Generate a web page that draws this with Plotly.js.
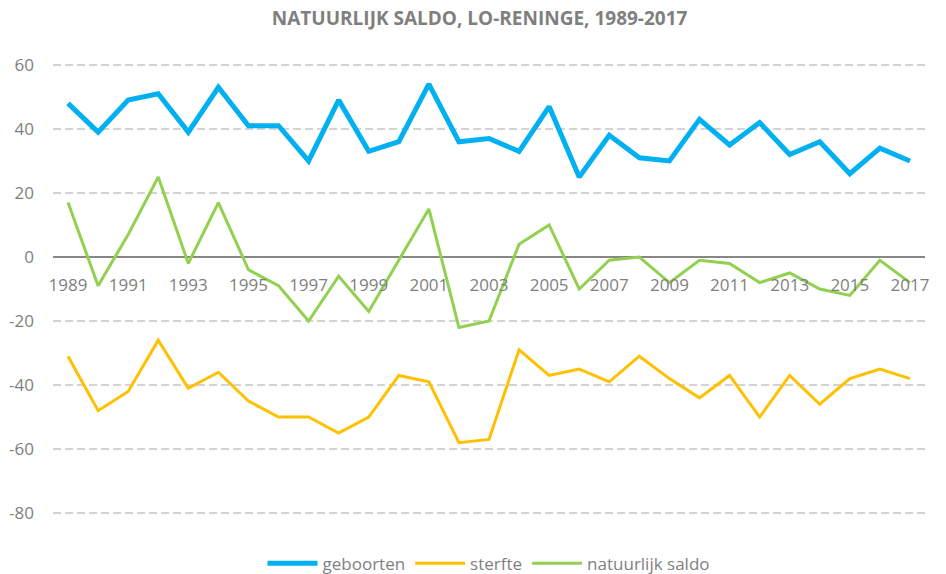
<!DOCTYPE html>
<html>
<head>
<meta charset="utf-8">
<script src="https://cdn.plot.ly/plotly-3.0.1.min.js"></script>
<style>html,body{margin:0;padding:0;background:#fff;}#chart{width:946px;height:574px;}</style>
</head>
<body>
<div id="chart"></div>
<script>
const years = [1989,1990,1991,1992,1993,1994,1995,1996,1997,1998,1999,2000,2001,2002,2003,2004,2005,2006,2007,2008,2009,2010,2011,2012,2013,2014,2015,2016,2017];
const geboorten = [48,39,49,51,39,53,41,41,30,49,33,36,54,36,37,33,47,25,38,31,30,43,35,42,32,36,26,34,30];
const sterfte = [-31,-48,-42,-26,-41,-36,-45,-50,-50,-55,-50,-37,-39,-58,-57,-29,-37,-35,-39,-31,-38,-44,-37,-50,-37,-46,-38,-35,-38];
const saldo = [17,-9,7,25,-2,17,-4,-9,-20,-6,-17,-1,15,-22,-20,4,10,-10,-1,0,-8,-1,-2,-8,-5,-10,-12,-1,-8];
const tickYears = [1989,1991,1993,1995,1997,1999,2001,2003,2005,2007,2009,2011,2013,2015,2017];
const yTicks = [-80,-60,-40,-20,0,20,40,60];
const seriesNames = ['geboorten','sterfte','natuurlijk saldo'];

const font = 'Open Sans, Noto Sans, sans-serif';
const yMin = -80.6, yMax = 60.6;
const traces = [
  {x: years, y: geboorten, name: seriesNames[0], type: 'scatter', mode: 'lines', line: {color: '#00b0f0', width: 5}},
  {x: years, y: sterfte, name: seriesNames[1], type: 'scatter', mode: 'lines', line: {color: '#ffc000', width: 3}},
  {x: years, y: saldo, name: seriesNames[2], type: 'scatter', mode: 'lines', line: {color: '#92d050', width: 3}}
];
const layout = {
  width: 946, height: 574,
  margin: {l: 53, r: 21, t: 63, b: 59, autoexpand: false},
  paper_bgcolor: '#fff', plot_bgcolor: '#fff',
  font: {family: font, color: '#7f7f7f', size: 17},
  title: {text: '<b>NATUURLIJK SALDO, LO-RENINGE, 1989-2017</b>', font: {family: font, size: 19, color: '#7f7f7f'}, x: 0.507, xref: 'container', xanchor: 'center', y: 0.968, yref: 'container', yanchor: 'middle'},
  xaxis: {
    range: [1988.5, 2017.5], tickmode: 'array', tickvals: tickYears, ticktext: tickYears.map(String),
    showgrid: false, zeroline: false, showline: false, ticks: '',
    anchor: 'free', position: (0 - yMin) / (yMax - yMin), ticklabelstandoff: 16,
    tickfont: {family: font, size: 17, color: '#7f7f7f'}
  },
  yaxis: {
    range: [yMin, yMax], tickmode: 'array', tickvals: yTicks, ticktext: yTicks.map(String),
    showgrid: true, gridcolor: '#d4d4d4', gridwidth: 1.6, griddash: '8px,4px',
    zeroline: true, zerolinecolor: '#878787', zerolinewidth: 2.5,
    showline: false, ticks: '', ticklabelstandoff: 18,
    tickfont: {family: font, size: 17, color: '#7f7f7f'}
  },
  showlegend: true,
  legend: {orientation: 'h', x: 0.5, xanchor: 'center', y: -0.108, yanchor: 'middle', font: {family: font, size: 17, color: '#7f7f7f'}, traceorder: 'normal', itemwidth: 50}
};
Plotly.newPlot('chart', traces, layout, {displayModeBar: false, staticPlot: true});
</script>
</body>
</html>
